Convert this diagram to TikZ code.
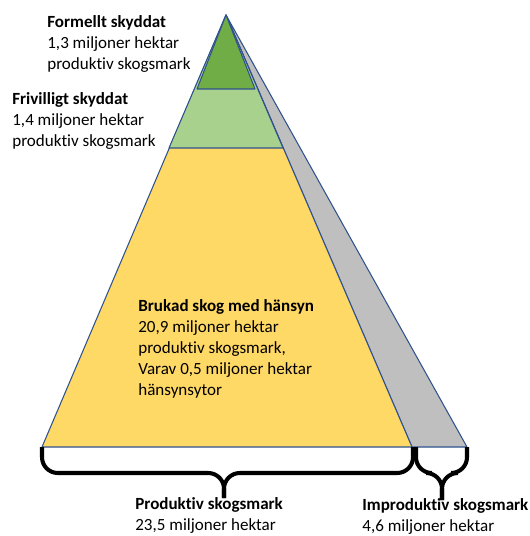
\documentclass[tikz,border=0pt]{standalone}
\usepackage{fontspec}
\setmainfont{Carlito}[Ligatures=NoCommon]
\usepackage{tikz}
\usetikzlibrary{calc,positioning}
\definecolor{dark_green}{HTML}{70AD47}
\definecolor{light_green}{HTML}{A9D18E}
\definecolor{forest_yellow}{HTML}{FFD966}
\definecolor{impr_grey}{HTML}{BFBFBF}
\definecolor{edge_blue}{HTML}{2F528F}
\tikzset{
layer/.style={draw=edge_blue, line width=0.6pt, line join=round},
brace_line/.style={draw=black, line width=2.3pt, rounded corners=9pt},
info/.style={anchor=north west, inner sep=0pt, align=left, font=\fontsize{9.7}{11.95}\selectfont}
}

\begin{document}
\begin{tikzpicture}[x=0.02cm, y=-0.02cm]
    \useasboundingbox (0,0) rectangle (529,536);
    % pyramid corners
    \coordinate (top) at (226,15);
    \coordinate (base_left) at (42,447);
    \coordinate (base_mid) at (412,447);
    \coordinate (base_right) at (467,447);
    % layers
    \filldraw[layer, fill=impr_grey] (top) -- (base_right) -- (base_mid) -- cycle;
    \filldraw[layer, fill=forest_yellow] (top) -- (base_left) -- (base_mid) -- cycle;
    \filldraw[layer, fill=light_green] (top) -- (169,148) -- (283,148) -- cycle;
    \filldraw[layer, fill=dark_green] (top) -- (197,89) -- (255,89) -- cycle;
    % braces
    \coordinate (tip_1) at (224,498);
    \coordinate (tip_2) at (442,500);
    \draw[brace_line] (base_left) |- ($(tip_1)+(0,-25)$) -- (tip_1);
    \draw[brace_line] (413,447) |- ($(tip_1)+(0,-25)$) -- (tip_1);
    \draw[brace_line] (416,447) |- ($(tip_2)+(0,-27)$) -- (tip_2);
    \draw[brace_line] (base_right) |- ($(tip_2)+(0,-27)$) -- (tip_2);
    % labels
    \node[info] (formellt) at (47,15) {\textbf{Formellt skyddat}\\1,3 miljoner hektar\\produktiv skogsmark};
    \node[info] (frivilligt) at (12,92) {\textbf{Frivilligt skyddat}\\1,4 miljoner hektar\\produktiv skogsmark};
    \node[info] (brukad) at (138,299) {\textbf{Brukad skog med hänsyn}\\20,9 miljoner hektar\\produktiv skogsmark,\\Varav 0,5 miljoner hektar\\hänsynsytor};
    \node[info] (produktiv) at (135,497) {\textbf{Produktiv skogsmark}\\23,5 miljoner hektar};
    \node[info] (improduktiv) at (362,498) {\textbf{Improduktiv skogsmark}\\4,6 miljoner hektar};
\end{tikzpicture}
\end{document}
